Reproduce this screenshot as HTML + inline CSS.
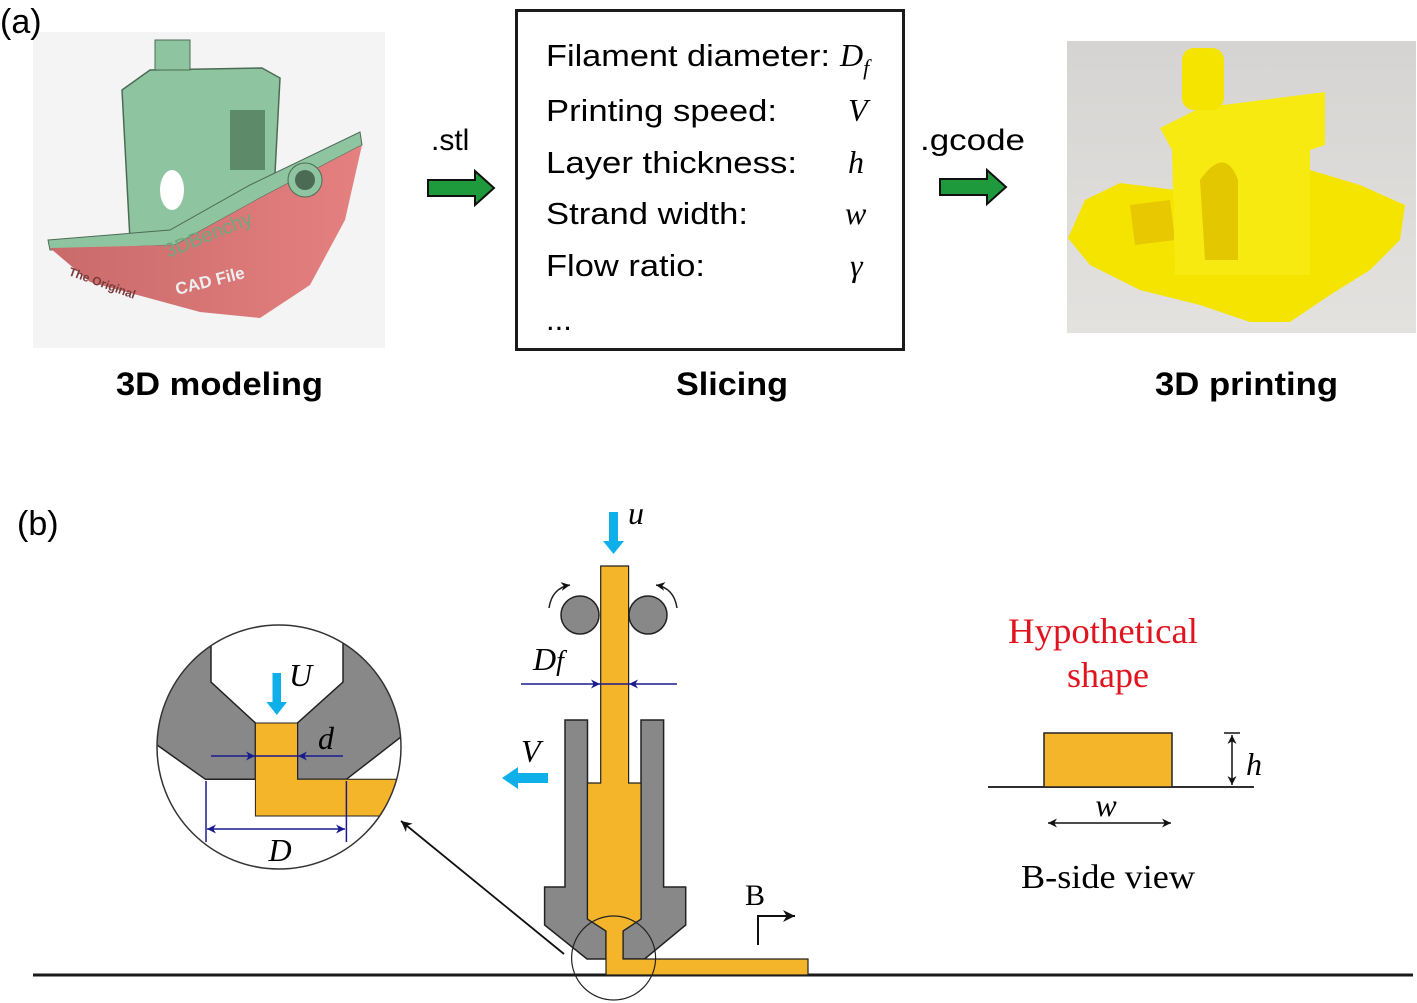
<!DOCTYPE html>
<html><head><meta charset="utf-8"><style>
html,body{margin:0;padding:0;background:#fff;}
svg{display:block;}
.s{font-family:"Liberation Sans",Arial,sans-serif;}
.r{font-family:"Liberation Serif","Times New Roman",serif;}
</style></head><body>
<svg width="1417" height="1003" viewBox="0 0 1417 1003" xmlns="http://www.w3.org/2000/svg">
<defs>
<linearGradient id="pk" x1="0" x2="1"><stop offset="0" stop-color="#c96a6a"/><stop offset="1" stop-color="#e58080"/></linearGradient>
<linearGradient id="bg2" x1="0" y1="0" x2="0" y2="1"><stop offset="0" stop-color="#d6d4d2"/><stop offset="1" stop-color="#e4e2df"/></linearGradient>
<clipPath id="lens"><circle cx="279" cy="747" r="122"/></clipPath>
<marker id="ab" viewBox="0 0 10 10" refX="10" refY="5" markerWidth="6" markerHeight="6" orient="auto-start-reverse"><path d="M0,0 L10,5 L0,10 L3,5z" fill="#1a1a8c"/></marker>
<marker id="ak" viewBox="0 0 10 10" refX="10" refY="5" markerWidth="6" markerHeight="6" orient="auto-start-reverse"><path d="M0,0 L10,5 L0,10 L3,5z" fill="#111"/></marker>
</defs>

<rect x="33" y="32" width="352" height="316" fill="#f4f4f4"/>
<text x="0" y="33" class="s" font-size="34">(a)</text>
<path d="M122,90 L150,70 L262,68 L280,78 L272,230 L130,240 Z" fill="#8fc4a0" stroke="#4c6b55" stroke-width="1.5"/>
<rect x="155" y="40" width="35" height="30" fill="#8fc4a0" stroke="#4c6b55"/>
<ellipse cx="172" cy="190" rx="12" ry="20" fill="#fff"/>
<rect x="230" y="110" width="35" height="60" fill="#5d8a69"/>
<path d="M48,240 L170,230 L250,185 L360,132 L362,145 L260,198 L175,245 L50,250Z" fill="#8fc4a0" stroke="#4c6b55"/>
<path d="M50,248 L175,245 L260,198 L362,145 L345,220 L310,285 L260,318 L200,312 L90,282 Z" fill="url(#pk)"/>
<circle cx="305" cy="180" r="17" fill="#8fc4a0" stroke="#4c6b55"/><circle cx="305" cy="180" r="10" fill="#4c6b55"/>
<text x="168" y="258" class="s" font-size="20" fill="#6fa77f" transform="rotate(-22 168 258)">3DBenchy</text>
<text x="177" y="295" class="s" font-size="17" font-weight="bold" fill="#eee" transform="rotate(-14 177 295)">CAD File</text>
<text x="68" y="275" class="s" font-size="12" font-weight="bold" fill="#7a3a3a" transform="rotate(20 68 275)">The Original</text>

<text x="431" y="150" class="s" font-size="30">.stl</text>
<path d="M428,180 L475,180 L475,171 L494,188 L475,205 L475,196 L428,196Z" fill="#1e9a3c" stroke="#111" stroke-width="2"/>
<text x="920" y="150" class="s" font-size="30" textLength="105" lengthAdjust="spacingAndGlyphs">.gcode</text>
<path d="M940,179 L987,179 L987,170 L1006,187 L987,204 L987,195 L940,195Z" fill="#1e9a3c" stroke="#111" stroke-width="2"/>

<rect x="516.5" y="10.5" width="387" height="339" fill="#fff" stroke="#1a1a1a" stroke-width="3"/>
<g class="s" font-size="31" lengthAdjust="spacingAndGlyphs">
<text x="546" y="66" textLength="284" lengthAdjust="spacingAndGlyphs">Filament diameter:</text>
<text x="546" y="121" textLength="231" lengthAdjust="spacingAndGlyphs">Printing speed:</text>
<text x="546" y="173" textLength="251" lengthAdjust="spacingAndGlyphs">Layer thickness:</text>
<text x="546" y="224" textLength="202" lengthAdjust="spacingAndGlyphs">Strand width:</text>
<text x="546" y="276" textLength="159" lengthAdjust="spacingAndGlyphs">Flow ratio:</text>
<text x="546" y="330">...</text>
</g>
<g class="r" font-size="32" font-style="italic">
<text x="840" y="66">D<tspan font-size="22" dy="9">f</tspan></text>
<text x="848" y="121">V</text>
<text x="848" y="173">h</text>
<text x="845" y="224">w</text>
<text x="850" y="276">γ</text>
</g>

<rect x="1067" y="41" width="349" height="292" fill="url(#bg2)"/>
<path d="M1068,238 L1085,200 L1120,183 L1175,190 L1240,178 L1310,170 L1360,185 L1405,205 L1400,240 L1370,270 L1330,295 L1290,322 L1250,322 L1200,305 L1140,290 L1090,265Z" fill="#f5e400"/>
<path d="M1130,205 L1170,200 L1175,240 L1135,245Z" fill="#e8c800"/>
<path d="M1160,128 L1200,108 L1325,92 L1325,145 L1310,150 L1310,275 L1175,275 L1172,150Z" fill="#f7ea10"/>
<path d="M1200,180 Q1225,145 1238,180 L1238,260 L1205,260Z" fill="#e3c700"/>
<rect x="1182" y="48" width="42" height="62" rx="12" fill="#f5e400"/>
<text x="116" y="395" class="s" font-size="32" font-weight="bold" textLength="207" lengthAdjust="spacingAndGlyphs">3D modeling</text>
<text x="676" y="395" class="s" font-size="32" font-weight="bold" textLength="112" lengthAdjust="spacingAndGlyphs">Slicing</text>
<text x="1155" y="395" class="s" font-size="32" font-weight="bold" textLength="183" lengthAdjust="spacingAndGlyphs">3D printing</text>

<text x="17" y="535" class="s" font-size="34">(b)</text>
<line x1="33" y1="975" x2="1413" y2="975" stroke="#1a1a1a" stroke-width="3"/>

<path d="M565,720 L587.5,720 L587.5,919 L606,931 L606,959 L587,959 L544.6,925 L544.6,887 L565,887Z" fill="#888" stroke="#222" stroke-width="1.5"/>
<path d="M663.6,720 L641,720 L641,919 L623,931 L623,959 L644.6,959 L685.7,925 L685.7,887 L663.6,887Z" fill="#888" stroke="#222" stroke-width="1.5"/>
<path d="M600.7,566 L628.6,566 L628.6,783 L641,783 L641,919 L623,931 L623,959 L808,959 L808,975 L606,975 L606,931 L587.5,919 L587.5,783 L600.7,783Z" fill="#f5b52a" stroke="#222" stroke-width="1.2"/>
<circle cx="613.6" cy="958" r="42" fill="none" stroke="#222" stroke-width="1.2"/>
<circle cx="580" cy="615" r="19" fill="#888" stroke="#222" stroke-width="1.5"/>
<circle cx="648" cy="615" r="19" fill="#888" stroke="#222" stroke-width="1.5"/>
<path d="M549,608 Q552,588 570,585" fill="none" stroke="#222" stroke-width="1.5" marker-end="url(#ak)"/>
<path d="M677,608 Q674,588 656,585" fill="none" stroke="#222" stroke-width="1.5" marker-end="url(#ak)"/>
<path d="M609,512 L618,512 L618,541 L624,541 L613.5,554 L603,541 L609,541Z" fill="#0fb0ea"/>
<text x="628" y="524" class="r" font-size="32" font-style="italic">u</text>
<line x1="521" y1="684" x2="600" y2="684" stroke="#1a1a8c" stroke-width="1.5" marker-end="url(#ab)"/>
<line x1="677" y1="684" x2="629" y2="684" stroke="#1a1a8c" stroke-width="1.5" marker-end="url(#ab)"/>
<line x1="600" y1="684" x2="629" y2="684" stroke="#1a1a8c" stroke-width="1.5"/>
<text x="533" y="670" class="r" font-size="32" font-style="italic">D<tspan font-size="28">f</tspan></text>
<path d="M548,773 L518,773 L518,767 L502,778 L518,789 L518,783 L548,783Z" fill="#0fb0ea"/>
<text x="521" y="762" class="r" font-size="32" font-style="italic">V</text>
<line x1="564" y1="954" x2="401" y2="821" stroke="#111" stroke-width="1.8" marker-end="url(#ak)"/>

<circle cx="279" cy="747" r="122" fill="#fff"/>
<g clip-path="url(#lens)">
<path d="M100,600 L211,600 L211,682 L255.4,723 L255.4,779.3 L205.4,779.3 L150,740 L100,740Z" fill="#888" stroke="#222" stroke-width="1.5"/>
<path d="M460,600 L343,600 L343,682 L297.5,723 L297.5,779.3 L346.4,779.3 L410,730 L460,730Z" fill="#888" stroke="#222" stroke-width="1.5"/>
<path d="M255.4,723 L297.5,723 L297.5,779.3 L420,779.3 L420,816 L255.4,816Z" fill="#f5b52a" stroke="#222" stroke-width="1"/>
</g>
<circle cx="279" cy="747" r="122" fill="none" stroke="#333" stroke-width="1.5"/>
<path d="M272.5,673 L281,673 L281,702 L287,702 L276.8,715 L266.5,702 L272.5,702Z" fill="#0fb0ea"/>
<text x="289" y="686" class="r" font-size="32" font-style="italic">U</text>
<line x1="211" y1="756" x2="255" y2="756" stroke="#1a1a8c" stroke-width="1.5" marker-end="url(#ab)"/>
<line x1="343" y1="756" x2="298" y2="756" stroke="#1a1a8c" stroke-width="1.5" marker-end="url(#ab)"/>
<line x1="255" y1="756" x2="298" y2="756" stroke="#1a1a8c" stroke-width="1.5"/>
<text x="318" y="749" class="r" font-size="32" font-style="italic">d</text>
<line x1="206" y1="781" x2="206" y2="842" stroke="#1a1a8c" stroke-width="1.5"/>
<line x1="346.4" y1="781" x2="346.4" y2="842" stroke="#1a1a8c" stroke-width="1.5"/>
<line x1="207" y1="829" x2="345" y2="829" stroke="#1a1a8c" stroke-width="1.5" marker-start="url(#ab)" marker-end="url(#ab)"/>
<text x="280" y="861" class="r" font-size="32" font-style="italic" text-anchor="middle">D</text>

<text x="745" y="905" class="r" font-size="30">B</text>
<path d="M758,945 L758,916 L795,916" fill="none" stroke="#111" stroke-width="2" marker-end="url(#ak)"/>

<text x="1008" y="643" class="r" font-size="36" fill="#e0141e" textLength="190" lengthAdjust="spacingAndGlyphs">Hypothetical</text>
<text x="1108" y="687" class="r" font-size="36" fill="#e0141e" text-anchor="middle">shape</text>
<line x1="988" y1="787" x2="1254" y2="787" stroke="#111" stroke-width="1.8"/>
<rect x="1044" y="733" width="128" height="54" fill="#f5b52a" stroke="#222" stroke-width="1.5"/>
<line x1="1232" y1="735" x2="1232" y2="785" stroke="#111" stroke-width="1.5" marker-start="url(#ak)" marker-end="url(#ak)"/>
<line x1="1224" y1="733" x2="1240" y2="733" stroke="#111" stroke-width="1.5"/>
<text x="1246" y="775" class="r" font-size="32" font-style="italic">h</text>
<line x1="1048" y1="823" x2="1171" y2="823" stroke="#111" stroke-width="1.5" marker-start="url(#ak)" marker-end="url(#ak)"/>
<text x="1106" y="816" class="r" font-size="32" font-style="italic" text-anchor="middle">w</text>
<text x="1021" y="888" class="r" font-size="34" textLength="174" lengthAdjust="spacingAndGlyphs">B-side view</text>
</svg>
</body></html>
